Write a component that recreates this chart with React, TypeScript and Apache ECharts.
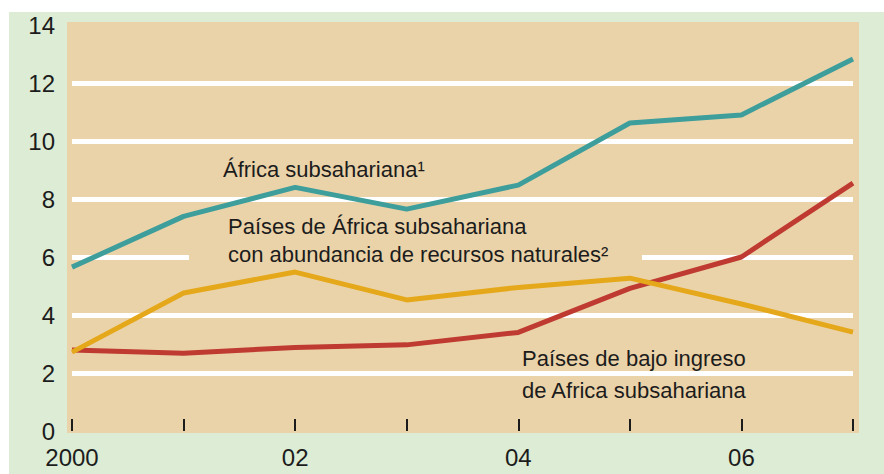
import React, { useEffect, useRef } from "react";
import * as echarts from "echarts";

const years = ["2000", "01", "02", "03", "04", "05", "06", "07"];
const africaSubsahariana = [5.65, 7.4, 8.4, 7.65, 8.48, 10.62, 10.9, 12.83];
const bajoIngreso = [2.79, 2.68, 2.88, 2.97, 3.4, 4.92, 6.0, 8.55];
const recursosNaturales = [2.72, 4.76, 5.48, 4.52, 4.95, 5.27, 4.38, 3.41];
const yTicks = [0, 2, 4, 6, 8, 10, 12, 14];

const GREEN = "#ddecd5";
const TAN = "#ebd3a9";
const TEAL = "#3d9e9b";
const RED = "#bf3a31";
const GOLD = "#e5a81a";
const INK = "#1c1c1c";
const FONT = "'Liberation Sans', Arial, sans-serif";

export default function App() {
  const ref = useRef<HTMLDivElement>(null);
  useEffect(() => {
    if (!ref.current) return;
    const chart = echarts.init(ref.current, null, { renderer: "svg" });
    const splitColors = yTicks.map((_, i) =>
      i === 0 || i === yTicks.length - 1 ? "rgba(0,0,0,0)" : "#ffffff"
    );
    chart.setOption({
      animation: false,
      backgroundColor: "#ffffff",
      grid: { left: 72, right: 31, top: 25, bottom: 43, containLabel: false },
      xAxis: {
        type: "category",
        data: years,
        boundaryGap: false,
        axisLine: { show: false },
        axisTick: {
          show: true,
          inside: true,
          length: 12,
          interval: 0,
          lineStyle: { color: INK, width: 2 },
        },
        axisLabel: {
          interval: 1,
          margin: 14,
          fontSize: 24,
          fontFamily: FONT,
          color: INK,
        },
        splitLine: { show: false },
      },
      yAxis: {
        type: "value",
        min: 0,
        max: 14,
        interval: 2,
        axisLine: { show: false },
        axisTick: { show: false },
        axisLabel: {
          margin: 17,
          fontSize: 24,
          fontFamily: FONT,
          color: INK,
        },
        splitLine: {
          show: true,
          lineStyle: { color: splitColors, width: 5 },
        },
      },
      graphic: {
        elements: [
          {
            type: "rect",
            z: -20,
            silent: true,
            shape: { x: 9, y: 12, width: 875, height: 462 },
            style: { fill: GREEN },
          },
          {
            type: "rect",
            z: -10,
            silent: true,
            shape: { x: 67, y: 22, width: 792, height: 411 },
            style: { fill: TAN },
          },
          {
            type: "rect",
            z: 1,
            silent: true,
            shape: { x: 189, y: 246, width: 453, height: 22 },
            style: { fill: TAN },
          },
          {
            type: "text",
            z: 10,
            x: 223,
            y: 169,
            style: {
              text: "África subsahariana¹",
              fontSize: 22,
              fontFamily: FONT,
              fill: INK,
              verticalAlign: "middle",
            },
          },
          {
            type: "text",
            z: 10,
            x: 228,
            y: 212,
            style: {
              text: "Países de África subsahariana\ncon abundancia de recursos naturales²",
              fontSize: 22,
              lineHeight: 28,
              fontFamily: FONT,
              fill: INK,
              verticalAlign: "top",
            },
          },
          {
            type: "text",
            z: 10,
            x: 522,
            y: 342,
            style: {
              text: "Países de bajo ingreso\nde Africa subsahariana",
              fontSize: 22,
              lineHeight: 32,
              fontFamily: FONT,
              fill: INK,
              verticalAlign: "top",
            },
          },
        ],
      },
      series: [
        {
          name: "África subsahariana",
          type: "line",
          data: africaSubsahariana,
          symbol: "none",
          lineStyle: { color: TEAL, width: 5 },
          z: 3,
        },
        {
          name: "Países de bajo ingreso de Africa subsahariana",
          type: "line",
          data: bajoIngreso,
          symbol: "none",
          lineStyle: { color: RED, width: 5 },
          z: 3,
        },
        {
          name: "Países de África subsahariana con abundancia de recursos naturales",
          type: "line",
          data: recursosNaturales,
          symbol: "none",
          lineStyle: { color: GOLD, width: 5 },
          z: 4,
        },
      ],
    });
    return () => chart.dispose();
  }, []);
  return (
    <div
      ref={ref}
      style={{ position: "absolute", left: 0, top: 0, width: 884, height: 474 }}
    />
  );
}
